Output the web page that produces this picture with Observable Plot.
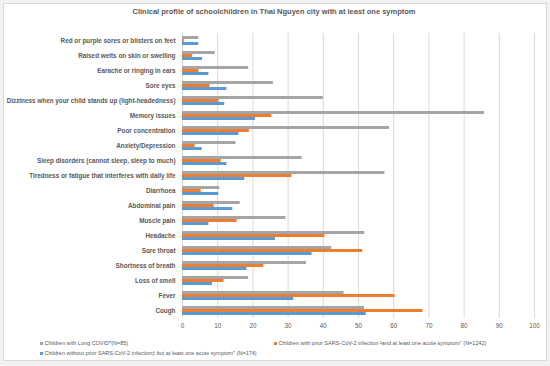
<!DOCTYPE html>
<html><head><meta charset="utf-8">
<script src="https://cdn.jsdelivr.net/npm/d3@7"></script>
<script src="https://cdn.jsdelivr.net/npm/@observablehq/plot@0.6"></script>
<style>
html,body{margin:0;padding:0;background:#f2f2f2;}
#wrap{position:relative;width:550px;height:366px;overflow:hidden;font-family:"Liberation Sans",Arial,sans-serif;background:#f2f2f2;}
#frame{position:absolute;left:3px;top:3px;width:542px;height:356px;background:#fff;border:1px solid #d9d9d9;}
#title{position:absolute;left:0;width:548px;top:7px;text-align:center;font-size:7.5px;font-weight:bold;color:#595959;line-height:9px;}
#chart{position:absolute;left:0;top:0;}
.leg{position:absolute;font-size:5.5px;color:#595959;white-space:nowrap;line-height:6px;}
.sw{display:inline-block;width:3px;height:3px;margin-right:1.5px;vertical-align:middle;position:relative;top:-0.5px;}
</style></head>
<body>
<div id="wrap">
  <div id="frame"></div>
  <div id="title">Clinical profile of schoolchildren in Thai Nguyen city with at least one symptom</div>
  <div id="chart"></div>
  <div id="legend"></div>
</div>
<script>
const categories = [
  "Red or purple sores or blisters on feet",
  "Raised welts on skin or swelling",
  "Earache or ringing in ears",
  "Sore eyes",
  "Dizziness when your child stands up (light-headedness)",
  "Memory issues",
  "Poor concentration",
  "Anxiety/Depression",
  "Sleep disorders (cannot sleep, sleep to much)",
  "Tiredness or fatigue that interferes with daily life",
  "Diarrhoea",
  "Abdominal pain",
  "Muscle pain",
  "Headache",
  "Sore throat",
  "Shortness of breath",
  "Loss of smell",
  "Fever",
  "Cough"
];
const longCovid      = [4.6, 9.3, 18.8, 25.8, 40.0, 85.8, 58.8, 15.2, 34.0, 57.5, 10.6, 16.4, 29.4, 51.8, 42.4, 35.2, 18.8, 45.9, 51.7];
const priorInfection = [0.5, 2.9, 4.7, 7.8, 10.4, 25.4, 19.0, 3.6, 11.0, 31.1, 5.3, 9.0, 15.5, 40.5, 51.2, 23.1, 11.8, 60.4, 68.3];
const noInfection    = [4.6, 5.7, 7.5, 12.6, 12.0, 20.7, 16.0, 5.6, 12.6, 17.7, 10.3, 14.3, 7.5, 26.4, 36.8, 18.3, 8.5, 31.6, 52.2];
const seriesNames = [
  "Children with Long COVID*(N=85)",
  "Children with prior SARS-CoV-2 infection ²and at least one acute symptom⁺ (N=1242)",
  "Children without prior SARS-CoV-2 infection‡ but at least one acute symptom⁺ (N=174)"
];
const seriesColors = ["#a5a5a5", "#ed7d31", "#5b9bd5"];
const xTicks = [0, 10, 20, 30, 40, 50, 60, 70, 80, 90, 100];

const seriesValues = [longCovid, priorInfection, noInfection];
const rows = categories.flatMap((c, i) => seriesNames.map((s, k) => ({category: c, series: s, value: seriesValues[k][i]})));

const chart = Plot.plot({
  width: 550, height: 342,
  marginLeft: 182, marginRight: 16, marginTop: 24, marginBottom: 16,
  style: {background: "transparent", fontFamily: "Liberation Sans, Arial, sans-serif", color: "#595959", overflow: "visible"},
  x: {domain: [0, 100]},
  fy: {domain: categories, padding: 0},
  y: {domain: seriesNames, paddingInner: 0, paddingOuter: 0.6, axis: null},
  color: {domain: seriesNames, range: seriesColors},
  marks: [
    Plot.gridX(xTicks, {stroke: "#d9d9d9", strokeOpacity: 1}),
    Plot.axisX(xTicks, {tickSize: 0, tickPadding: 5, fontSize: 6.3, fill: "#595959", label: null}),
    Plot.axisFy({tickSize: 0, tickPadding: 7, fontSize: 6.35, fontWeight: "bold", fill: "#595959", label: null, anchor: "left"}),
    Plot.barX(rows, {x: "value", y: "series", fy: "category", fill: "series"})
  ]
});
document.getElementById("chart").appendChild(chart);

const legendPos = [[40, 340], [274, 340], [40, 350]];
const leg = document.getElementById("legend");
seriesNames.forEach((s, k) => {
  const d = document.createElement("div");
  d.className = "leg";
  d.style.left = legendPos[k][0] + "px";
  d.style.top = legendPos[k][1] + "px";
  const sw = document.createElement("span");
  sw.className = "sw";
  sw.style.background = seriesColors[k];
  d.appendChild(sw);
  d.appendChild(document.createTextNode(s));
  leg.appendChild(d);
});
</script>
</body></html>
